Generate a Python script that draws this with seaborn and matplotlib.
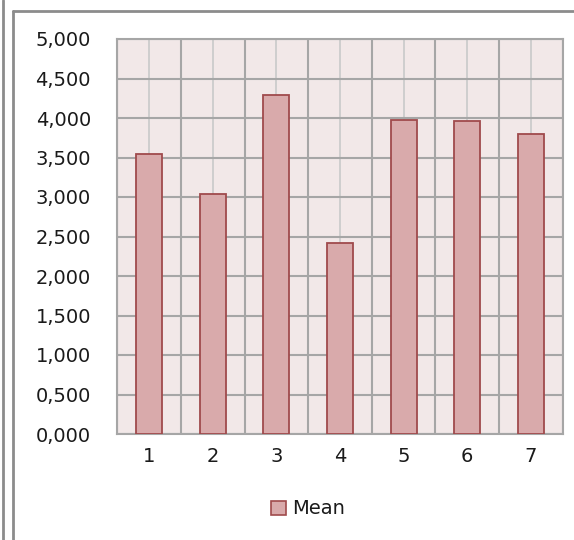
import matplotlib
matplotlib.use('Agg')
import matplotlib.pyplot as plt
import seaborn as sns
import pandas as pd
from matplotlib.lines import Line2D
from matplotlib.patches import Patch
from matplotlib.ticker import FuncFormatter, FixedLocator

# Dados
categorias = ['1', '2', '3', '4', '5', '6', '7']
medias = [3.543, 3.043, 4.290, 2.412, 3.975, 3.962, 3.798]
serie = 'Mean'

df = pd.DataFrame({'categoria': categorias, 'valor': medias})

sns.set_theme(style='white')
plt.rcParams['font.family'] = ['DejaVu Sans']

fig = plt.figure(figsize=(5.74, 5.4), dpi=100)
ax = fig.add_axes([117.3 / 574, 1 - 434 / 540, (562.7 - 117.3) / 574, (434 - 39) / 540])

cor_barra = '#D9AAAB'
cor_borda = '#A04A4C'
cinza_escuro = '#A6A6A6'
cinza_claro = '#CCCCCC'
cor_texto = '#1a1a1a'
tam_fonte = 14

sns.barplot(data=df, x='categoria', y='valor', color=cor_barra, saturation=1,
            width=0.41, edgecolor=cor_borda, linewidth=1.3, ax=ax, zorder=3)

ax.set_facecolor('#F2E8E8')
ax.set_xlim(-0.5, 6.5)
ax.set_ylim(0, 5)
ax.set_yticks([i * 0.5 for i in range(11)])
ax.yaxis.set_major_formatter(FuncFormatter(lambda v, p: f'{v:.3f}'.replace('.', ',')))

# grade: linhas claras no centro das categorias, escuras nos limites
ax.xaxis.set_minor_locator(FixedLocator([i - 0.5 for i in range(8)]))
ax.grid(axis='x', which='major', color=cinza_claro, linewidth=1.3, zorder=1)
ax.grid(axis='x', which='minor', color=cinza_escuro, linewidth=1.5, zorder=1)
ax.grid(axis='y', which='major', color=cinza_escuro, linewidth=1.5, zorder=1)
ax.set_axisbelow(True)

for lado in ['left', 'right', 'top', 'bottom']:
    ax.spines[lado].set_color(cinza_escuro)
    ax.spines[lado].set_linewidth(1.5)

ax.set_xlabel('')
ax.set_ylabel('')
ax.tick_params(axis='y', length=0, pad=19, labelsize=tam_fonte, labelcolor=cor_texto)
ax.tick_params(axis='x', which='both', length=0, pad=9, labelsize=tam_fonte, labelcolor=cor_texto)

# legenda
leg = fig.legend(handles=[Patch(facecolor=cor_barra, edgecolor=cor_borda, linewidth=1.2, label=serie)],
                 loc='center', bbox_to_anchor=(308 / 574, 1 - 509 / 540), frameon=False,
                 fontsize=tam_fonte, handlelength=0.75, handleheight=0.7, handletextpad=0.3)
for t in leg.get_texts():
    t.set_color(cor_texto)

# bordas externas do gráfico
fig.add_artist(Line2D([13 / 574, 13 / 574], [0, 1 - 11 / 540], color='#8C8C8C', linewidth=2, transform=fig.transFigure))
fig.add_artist(Line2D([13 / 574, 1], [1 - 11 / 540, 1 - 11 / 540], color='#8C8C8C', linewidth=2, transform=fig.transFigure))
fig.add_artist(Line2D([3 / 574, 3 / 574], [0, 1], color='#8C8C8C', linewidth=2, transform=fig.transFigure))

fig.savefig('out.png', dpi=100)
